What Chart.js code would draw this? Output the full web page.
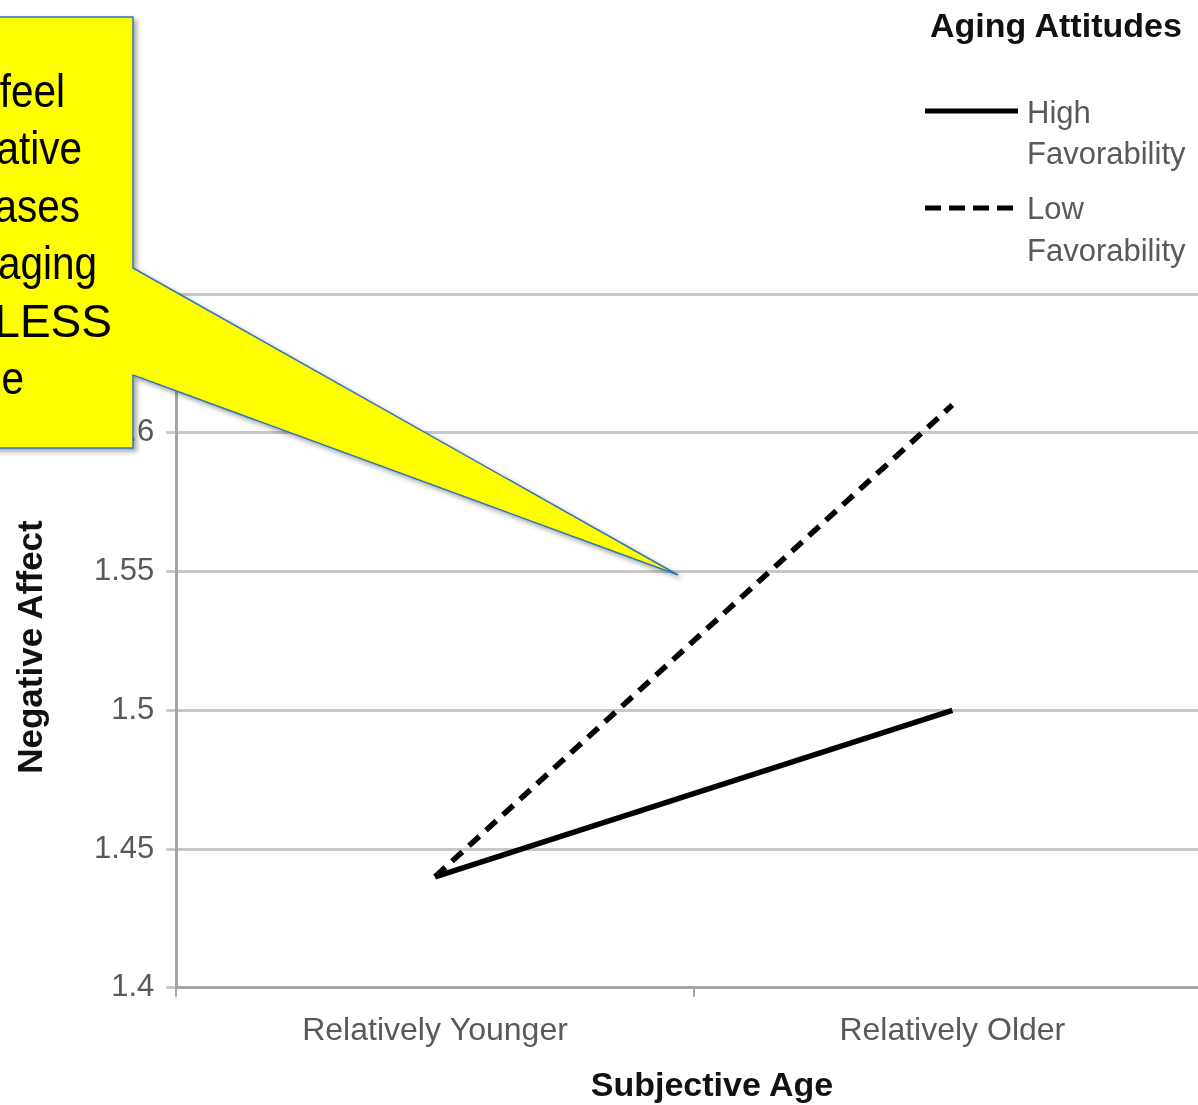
<!DOCTYPE html>
<html>
<head>
<meta charset="utf-8">
<script src="https://cdn.jsdelivr.net/npm/chart.js@4"></script>
<style>
  html, body { margin: 0; padding: 0; background: #ffffff; overflow: hidden; width: 1198px; height: 1105px; }
  #wrap { position: absolute; left: 0; top: 0; width: 1222px; height: 1121px; }
  #chart { position: absolute; left: 0; top: 0; }
  #overlay { position: absolute; left: 0; top: 0; pointer-events: none; }
  .lbl { font-family: 'Liberation Sans', Arial, sans-serif; }
</style>
</head>
<body>
<div id="wrap">
  <canvas id="chart" width="1222" height="1121"></canvas>
  <svg id="overlay" width="1222" height="1121" xmlns="http://www.w3.org/2000/svg">
    <defs>
      <filter id="shadow" x="-20%" y="-20%" width="140%" height="140%">
        <feDropShadow dx="3" dy="3" stdDeviation="2.5" flood-color="#000000" flood-opacity="0.35"/>
      </filter>
    </defs>
    <!-- axis titles -->
    <text id="xTitle" class="lbl" x="712" y="1096" font-size="34" font-weight="bold" fill="#111111" text-anchor="middle"></text>
    <text id="yTitle" class="lbl" transform="translate(42,647) rotate(-90)" x="0" y="0" font-size="35" font-weight="bold" fill="#111111" text-anchor="middle"></text>
    <!-- legend -->
    <text id="legTitle" class="lbl" x="930" y="37" font-size="34" font-weight="bold" fill="#111111"></text>
    <line x1="925" y1="111" x2="1018" y2="111" stroke="#000" stroke-width="5"/>
    <text class="lbl" x="1027" y="123" font-size="31" fill="#595959">High</text>
    <text class="lbl" x="1027" y="164" font-size="31" fill="#595959">Favorability</text>
    <line x1="925" y1="208" x2="1020" y2="208" stroke="#000" stroke-width="5" stroke-dasharray="16 8"/>
    <text class="lbl" x="1027" y="219" font-size="31" fill="#595959">Low</text>
    <text class="lbl" x="1027" y="261" font-size="31" fill="#595959">Favorability</text>
    <!-- callout -->
    <path d="M -20 17 L 133 17 L 133 268 L 678 575 L 133 375 L 133 448 L -20 448 Z"
          fill="#FFFF00" stroke="#2E75B6" stroke-width="1.5" filter="url(#shadow)"/>
    <g class="lbl" font-size="46" fill="#000000" text-anchor="end">
      <text transform="scale(0.88,1)" x="73.9" y="107">who feel</text>
      <text transform="scale(0.88,1)" x="93.2" y="164.5">negative</text>
      <text transform="scale(0.88,1)" x="90.9" y="222">increases</text>
      <text transform="scale(0.88,1)" x="110.2" y="279.5">aging</text>
      <text x="112" y="337">LESS</text>
      <text transform="scale(0.88,1)" x="27.3" y="394.5">age</text>
    </g>
  </svg>
</div>
<script>
const categories = ['Relatively Younger', 'Relatively Older'];
const highFavorability = [1.44, 1.50];
const lowFavorability = [1.44, 1.61];
const yTickLabels = ['1.4', '1.45', '1.5', '1.55', '1.6', '1.65'];
const seriesNames = ['High Favorability', 'Low Favorability'];
const xAxisTitle = 'Subjective Age';
const yAxisTitle = 'Negative Affect';
const legendTitle = 'Aging Attitudes';

document.getElementById('xTitle').textContent = xAxisTitle;
document.getElementById('yTitle').textContent = yAxisTitle;
document.getElementById('legTitle').textContent = legendTitle;

const FONT = "'Liberation Sans', Arial, sans-serif";

new Chart(document.getElementById('chart'), {
  type: 'line',
  data: {
    labels: categories,
    datasets: [
      {
        label: seriesNames[0],
        data: highFavorability,
        borderColor: '#000000',
        borderWidth: 5.5,
        pointRadius: 0,
        tension: 0,
        fill: false
      },
      {
        label: seriesNames[1],
        data: lowFavorability,
        borderColor: '#000000',
        borderWidth: 5.5,
        borderDash: [14, 9],
        pointRadius: 0,
        tension: 0,
        fill: false
      }
    ]
  },
  options: {
    responsive: false,
    animation: false,
    layout: { padding: { top: 294, left: 82, right: 11, bottom: 55.8 } },
    plugins: {
      legend: { display: false },
      tooltip: { enabled: false },
      title: { display: false }
    },
    scales: {
      x: {
        type: 'category',
        offset: true,
        grid: {
          offset: true,
          drawOnChartArea: false,
          drawTicks: true,
          tickLength: 9,
          color: '#a6a6a6',
          lineWidth: 2
        },
        border: { display: true, color: '#a6a6a6', width: 3 },
        ticks: {
          font: { family: FONT, size: 32 },
          color: '#595959',
          padding: 15,
          maxRotation: 0,
          autoSkip: false
        },
        title: { display: false }
      },
      y: {
        min: 1.4,
        max: 1.65,
        grid: {
          color: '#c8c8c8',
          lineWidth: 3,
          tickLength: 10,
          drawTicks: true
        },
        border: { display: true, color: '#a6a6a6', width: 3 },
        ticks: {
          stepSize: 0.05,
          font: { family: FONT, size: 31 },
          color: '#595959',
          padding: 12,
          callback: (v, i) => yTickLabels[i]
        },
        title: { display: false }
      }
    }
  }
});
</script>
</body>
</html>
